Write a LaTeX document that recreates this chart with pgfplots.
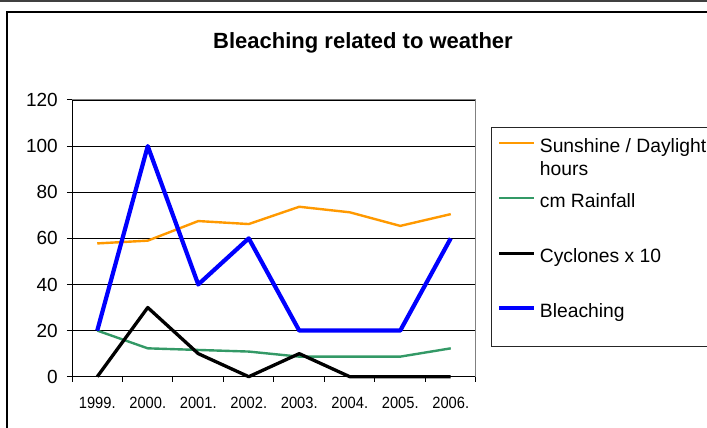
\documentclass[border=0pt]{standalone}
\usepackage{pgfplots}
\pgfplotsset{compat=1.18}
\usepackage{fontspec}
\setmainfont{Liberation Sans}
\definecolor{sunorange}{HTML}{FF9900}
\definecolor{raingreen}{HTML}{339966}
\definecolor{bleachblue}{HTML}{0000FF}
\begin{document}
\begin{tikzpicture}
\useasboundingbox (0bp,0bp) rectangle (707bp,428bp);
\clip (0bp,0bp) rectangle (707bp,428bp);
% outer chart frame
\draw[line width=2bp] (6.5bp,-20bp) -- (6.5bp,415.5bp) -- (730bp,415.5bp);
\draw[line width=1.5bp, black!75] (-10bp,427.2bp) -- (730bp,427.2bp);
% title
\node[anchor=base, font=\fontsize{22bp}{25bp}\selectfont\bfseries] at (363bp,379.5bp) {Bleaching related to weather};
\begin{axis}[
  at={(72bp,51.3bp)}, anchor=south west,
  scale only axis, width=404bp, height=276.7bp,
  xmin=0, xmax=8, ymin=0, ymax=120,
  axis lines*=left,
  axis line style={black, line width=1bp},
  xtick={0.5,1.5,...,7.5},
  xticklabels={1999.,2000.,2001.,2002.,2003.,2004.,2005.,2006.},
  minor xtick={0,1,...,8},
  major x tick style={draw=none},
  ytick={0,20,...,120},
  tick align=outside,
  major tick length=5bp, minor tick length=5bp,
  tick style={black, line width=1bp},
  ymajorgrids,
  major grid style={black, line width=0.8bp},
  /pgf/number format/assume math mode=true,
  yticklabel style={font=\fontsize{19bp}{23bp}\selectfont, inner sep=0pt, anchor=east, xshift=-9bp},
  xticklabel style={font=\fontsize{16.3bp}{20bp}\selectfont, inner sep=0pt, anchor=north, yshift=-14.8bp, xscale=0.9},
  legend style={at={(1.0371,0.8988)}, anchor=north west,
    draw=none, fill=none,
    inner xsep=6bp, inner ysep=10bp,
    column sep=3.5bp, row sep=37bp,
    font=\fontsize{19.3bp}{23bp}\selectfont,
    nodes={inner sep=0pt, text height=14bp, text depth=4bp},
    cells={anchor=base west}},
  legend cell align=left,
  legend image code/.code={\draw[#1] (0bp,4bp) -- (35bp,4bp);},
  clip=false,
]
\addplot[sunorange, line width=2.4bp, line join=round] coordinates {
  (0.5,57.8) (1.5,59.0) (2.5,67.5) (3.5,66.2) (4.5,73.7) (5.5,71.3) (6.5,65.4) (7.5,70.5)};
\addlegendentry{\smash{\begin{tabular}[t]{@{}l@{}}Sunshine / Daylight\\hours\end{tabular}}}
\addplot[raingreen, line width=2.4bp, line join=round] coordinates {
  (0.5,20) (1.5,12.3) (2.5,11.6) (3.5,10.9) (4.5,8.7) (5.5,8.7) (6.5,8.7) (7.5,12.3)};
\addlegendentry{cm Rainfall}
\addplot[black, line width=3.3bp, line join=round] coordinates {
  (0.5,0) (1.5,30) (2.5,10) (3.5,0) (4.5,10) (5.5,0) (6.5,0) (7.5,0)};
\addlegendentry{Cyclones x 10}
\addplot[bleachblue, line width=4.2bp, line join=round] coordinates {
  (0.5,20) (1.5,100) (2.5,40) (3.5,60) (4.5,20) (5.5,20) (6.5,20) (7.5,60)};
\addlegendentry{Bleaching}
\draw[black!50, line width=1bp] (rel axis cs:0,1) -- (rel axis cs:1,1) -- (rel axis cs:1,0);
\end{axis}
% legend frame
\draw[black!85, line width=1bp] (491bp,81bp) rectangle (730bp,300bp);
\end{tikzpicture}
\end{document}
